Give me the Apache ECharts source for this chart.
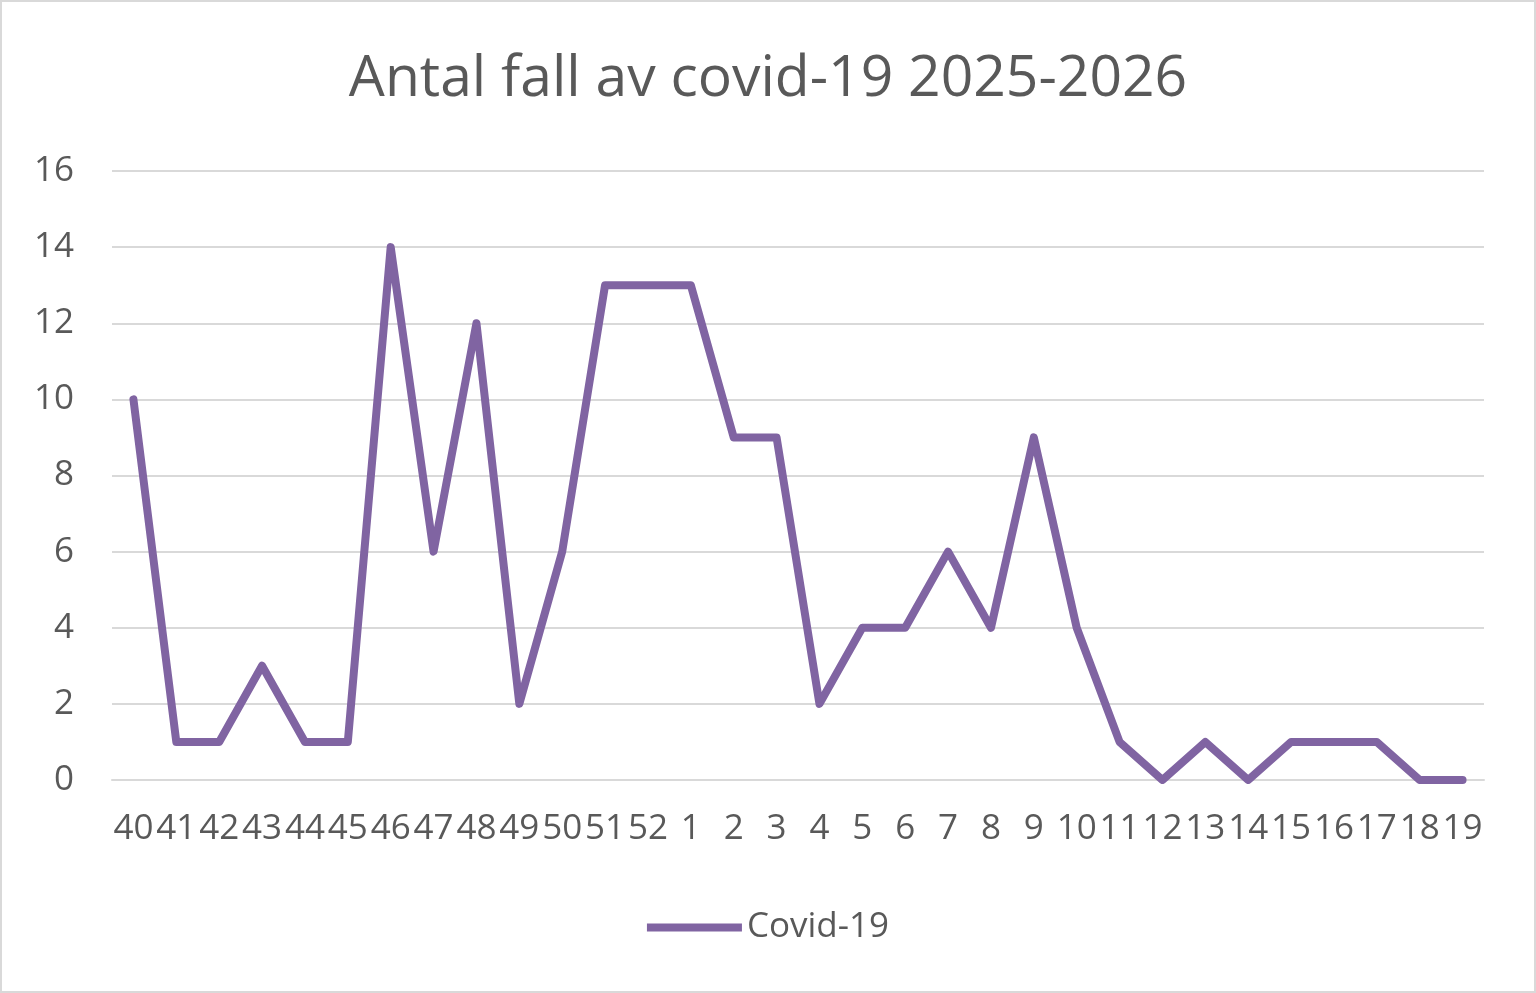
<!DOCTYPE html>
<html>
<head>
<meta charset="utf-8">
<script src="https://cdn.jsdelivr.net/npm/echarts@6/dist/echarts.min.js"></script>
<style>
html,body{margin:0;padding:0;background:#fff;}
#chart{position:absolute;left:0;top:0;width:1536px;height:993px;box-sizing:border-box;border:2px solid #d9d9d9;}
</style>
</head>
<body>
<div id="chart"></div>
<script>
const weeks = ['40','41','42','43','44','45','46','47','48','49','50','51','52','1','2','3','4','5','6','7','8','9','10','11','12','13','14','15','16','17','18','19'];
const covidCases = [10,1,1,3,1,1,14,6,12,2,6,13,13,13,9,9,2,4,4,6,4,9,4,1,0,1,0,1,1,1,0,0];
const yTicks = {min:0, max:16, interval:2};
const titleText = 'Antal fall av covid-19 2025-2026';
const seriesName = 'Covid-19';

const chart = echarts.init(document.getElementById('chart'), null, {renderer:'canvas'});
const font = '"Open Sans", sans-serif';
chart.setOption({
  animation:false,
  title:{text:titleText,left:'center',top:44,textStyle:{fontFamily:font,fontSize:57,fontWeight:'normal',color:'#595959'}},
  grid:{left:110,right:50,top:169,bottom:211,containLabel:false},
  legend:{bottom:41,left:'center',itemWidth:95,itemHeight:8,itemGap:8,
    textStyle:{fontFamily:font,fontSize:35,color:'#595959'},
    data:[{name:seriesName,icon:'rect'}]},
  xAxis:{type:'category',data:weeks,boundaryGap:true,
    axisLine:{show:true,lineStyle:{color:'#d9d9d9',width:2}},
    axisTick:{show:false},
    axisLabel:{interval:0,fontFamily:font,fontSize:35,color:'#595959',margin:32}},
  yAxis:{type:'value',min:yTicks.min,max:yTicks.max,interval:yTicks.interval,
    axisLine:{show:false},axisTick:{show:false},
    splitLine:{lineStyle:{color:'#d9d9d9',width:2}},
    axisLabel:{fontFamily:font,fontSize:35,color:'#595959',margin:38}},
  series:[{name:seriesName,type:'line',data:covidCases,symbol:'none',
    lineStyle:{color:'#8064a2',width:8,join:'round',cap:'round'},
    itemStyle:{color:'#8064a2'}}]
});
</script>
</body>
</html>
